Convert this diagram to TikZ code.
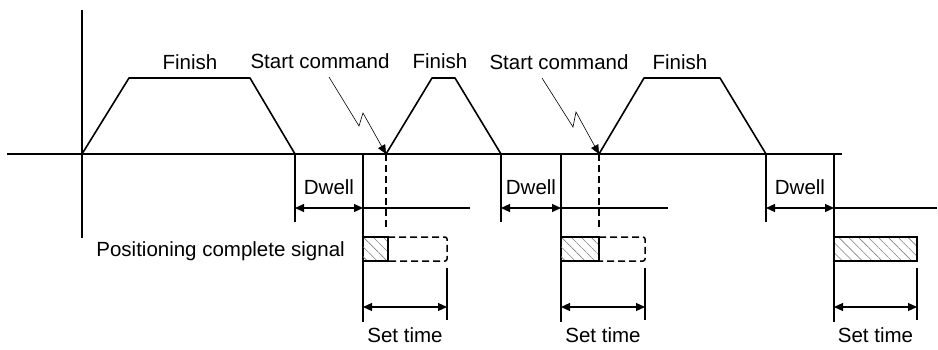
\documentclass[tikz,border=0pt]{standalone}
\usepackage{fontspec}
\setmainfont{Liberation Sans}
\usetikzlibrary{arrows.meta,patterns.meta,positioning}

\begin{document}
\begin{tikzpicture}[
    x=1pt, y=-1pt,
    lbl/.style={font=\fontsize{20.5}{24}\selectfont, inner sep=0pt},
    axis/.style={line width=1.2pt},
    ramp/.style={line width=1.6pt, line join=round},
    flat/.style={line width=2.8pt},
    span/.style={{Triangle[length=9pt,width=8pt]}-{Triangle[length=9pt,width=8pt]}, line width=1.2pt},
    bolt/.style={-{Triangle[length=9pt,width=8pt]}, line width=0.6pt},
    dashline/.style={line width=1.5pt, dash pattern=on 7pt off 4pt},
    hatch/.style={pattern={Lines[angle=-45,distance=7pt,line width=0.6pt]}, pattern color=gray}
  ]
    \useasboundingbox (0,0) rectangle (938,349);

    % axes
    \coordinate (o) at (82,154);
    \draw[axis] (7,154) -- (842,154);
    \draw[axis] (82,10) -- (82,238);

    % positioning profiles
    \coordinate (go2) at (386,154);
    \coordinate (go3) at (599,154);
    \draw[ramp] (o) -- (129,78) -- (250,78) -- (295,154);
    \draw[flat] (129,78) -- (250,78);
    \draw[ramp] (go2) -- (432,78) -- (455,78) -- (501,154);
    \draw[flat] (432,78) -- (455,78);
    \draw[ramp] (go3) -- (644,78) -- (720,78) -- (766,154);
    \draw[flat] (644,78) -- (720,78);

    \node[lbl] (fin1) at (190,62) {Finish};
    \node[lbl] (fin2) at (440,61) {Finish};
    \node[lbl] (fin3) at (680,62) {Finish};

    % start commands
    \node[lbl] (cmd2) at (320,61) {Start command};
    \node[lbl] (cmd3) at (559,62) {Start command};
    \draw[bolt] (329,77) -- (359,126) -- (363,113) -- (go2);
    \draw[bolt] (542,78) -- (573,127) -- (576,112) -- (go3);
    \draw[dashline] (go2) -- (386,230);
    \draw[dashline] (go3) -- (599,230);

    % dwell and set time
    \foreach \a/\b/\c/\e/\n in {295/363/470/447/1, 501/561/668/645/2, 766/834/937/917/3} {
      \coordinate (dw\n) at (\a,208);
      \coordinate (st\n) at (\b,208);
      \coordinate (se\n) at (\e,307);
      \draw[axis] (\a,154) -- (\a,222);
      \draw[axis] (\b,154) -- (\b,322);
      \draw[axis] (\e,268) -- (\e,320);
      \draw[span] (dw\n) -- (st\n);
      \draw[axis] (st\n) -- (\c,208);
      \draw[span] (\b,307) -- (se\n);
      \node[lbl] at ({(\a+\b)/2},187) {Dwell};
      \node[lbl] at ({(\b+\e)/2},335) {Set time};
    }

    % positioning complete signal
    \node[lbl, anchor=east] (sig) at (345,251) {Positioning complete signal};
    \fill[hatch] (363,237) rectangle (388,261);
    \draw[line width=1.8pt] (363,237) -- (388,237) -- (388,261) -- (363,261);
    \draw[dashline, rounded corners=2pt] (388,237) -- (447,237) -- (447,261) -- (388,261);
    \fill[hatch] (561,237) rectangle (599,261);
    \draw[line width=1.8pt] (561,237) -- (599,237) -- (599,261) -- (561,261);
    \draw[dashline, rounded corners=2pt] (599,237) -- (645,237) -- (645,261) -- (599,261);
    \draw[hatch, line width=1.2pt] (834,237) rectangle (917,261);
  \end{tikzpicture}
\end{document}
